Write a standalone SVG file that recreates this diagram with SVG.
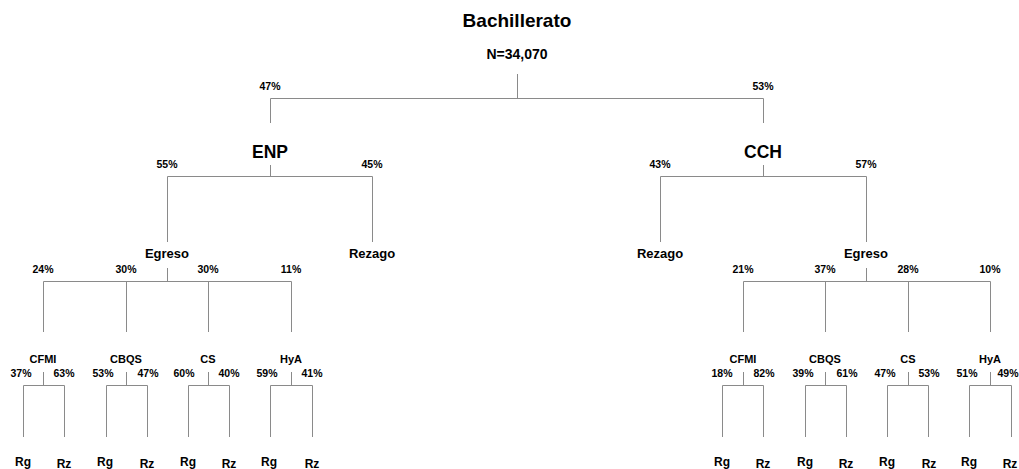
<svg xmlns="http://www.w3.org/2000/svg" width="1019" height="469" viewBox="0 0 1019 469">
<style>
text{font-family:"Liberation Sans",Arial,sans-serif;font-weight:bold;fill:#000;text-anchor:middle}
.t{font-size:19px}
.n{font-size:14px}
.l1{font-size:17.5px}
.l2{font-size:13px}
.l3{font-size:11px}
.lf{font-size:12px}
.p{font-size:10.5px}
.c path{fill:none;stroke:#8a8a8a;stroke-width:1}
</style>
<rect width="1019" height="469" fill="#fff"/>
<g class="c" id="connectors">
<path d="M517.5 74V98.5M270.5 123V98.5H763.5V123"/>
<path d="M270.5 165V176.5M167.5 242V176.5H372.5V242"/>
<path d="M763.5 165V176.5M660.5 242V176.5H866.5V242"/>
<path d="M167.5 268V281.5M43.5 332V281.5H291.5V332M126.5 281.5V332M208.5 281.5V332"/>
<path d="M866.5 268V281.5M743.5 332V281.5H990.5V332M825.5 281.5V332M908.5 281.5V332"/>
<path d="M43.5 372V385.5M23.5 437V385.5H64.5V437"/>
<path d="M126.5 372V385.5M106.5 437V385.5H147.5V437"/>
<path d="M208.5 372V385.5M188.5 437V385.5H229.5V437"/>
<path d="M291.5 372V385.5M270.5 437V385.5H312.5V437"/>
<path d="M743.5 372V385.5M722.5 437V385.5H763.5V437"/>
<path d="M825.5 372V385.5M805.5 437V385.5H846.5V437"/>
<path d="M908.5 372V385.5M887.5 437V385.5H928.5V437"/>
<path d="M990.5 372V385.5M969.5 437V385.5H1011.5V437"/>
</g>
<g id="edge-labels">
<text class="p" x="270" y="90">47%</text><text class="p" x="763" y="90">53%</text>
<text class="p" x="167" y="168">55%</text><text class="p" x="372" y="168">45%</text>
<text class="p" x="660" y="168">43%</text><text class="p" x="866" y="168">57%</text>
<text class="p" x="43" y="273">24%</text><text class="p" x="126" y="273">30%</text><text class="p" x="208" y="273">30%</text><text class="p" x="291" y="273">11%</text>
<text class="p" x="743" y="273">21%</text><text class="p" x="825" y="273">37%</text><text class="p" x="908" y="273">28%</text><text class="p" x="990" y="273">10%</text>
<text class="p" x="21" y="377">37%</text><text class="p" x="64" y="377">63%</text>
<text class="p" x="103" y="377">53%</text><text class="p" x="148" y="377">47%</text>
<text class="p" x="184" y="377">60%</text><text class="p" x="229" y="377">40%</text>
<text class="p" x="267" y="377">59%</text><text class="p" x="312" y="377">41%</text>
<text class="p" x="722" y="377">18%</text><text class="p" x="764" y="377">82%</text>
<text class="p" x="803" y="377">39%</text><text class="p" x="847" y="377">61%</text>
<text class="p" x="885" y="377">47%</text><text class="p" x="929" y="377">53%</text>
<text class="p" x="967" y="377">51%</text><text class="p" x="1008" y="377">49%</text>
</g>
<g id="root"><text class="t" x="517" y="27">Bachillerato</text><text class="n" x="517" y="59">N=34,070</text></g>
<g id="enp"><text class="l1" x="270" y="158">ENP</text></g>
<g id="cch"><text class="l1" x="763" y="158">CCH</text></g>
<g id="enp-egreso"><text class="l2" x="167" y="258">Egreso</text></g>
<g id="enp-rezago"><text class="l2" x="372" y="258">Rezago</text></g>
<g id="cch-rezago"><text class="l2" x="660" y="258">Rezago</text></g>
<g id="cch-egreso"><text class="l2" x="866" y="258">Egreso</text></g>
<g id="enp-cfmi"><text class="l3" x="43" y="363">CFMI</text></g>
<g id="enp-cbqs"><text class="l3" x="126" y="363">CBQS</text></g>
<g id="enp-cs"><text class="l3" x="208" y="363">CS</text></g>
<g id="enp-hya"><text class="l3" x="291" y="363">HyA</text></g>
<g id="cch-cfmi"><text class="l3" x="743" y="363">CFMI</text></g>
<g id="cch-cbqs"><text class="l3" x="825" y="363">CBQS</text></g>
<g id="cch-cs"><text class="l3" x="908" y="363">CS</text></g>
<g id="cch-hya"><text class="l3" x="990" y="363">HyA</text></g>
<g id="enp-cfmi-rg"><text class="lf" x="23" y="466">Rg</text></g>
<g id="enp-cfmi-rz"><text class="lf" x="64" y="468">Rz</text></g>
<g id="enp-cbqs-rg"><text class="lf" x="105" y="466">Rg</text></g>
<g id="enp-cbqs-rz"><text class="lf" x="147" y="468">Rz</text></g>
<g id="enp-cs-rg"><text class="lf" x="188" y="466">Rg</text></g>
<g id="enp-cs-rz"><text class="lf" x="229" y="468">Rz</text></g>
<g id="enp-hya-rg"><text class="lf" x="269" y="466">Rg</text></g>
<g id="enp-hya-rz"><text class="lf" x="312" y="468">Rz</text></g>
<g id="cch-cfmi-rg"><text class="lf" x="722" y="466">Rg</text></g>
<g id="cch-cfmi-rz"><text class="lf" x="763" y="468">Rz</text></g>
<g id="cch-cbqs-rg"><text class="lf" x="805" y="466">Rg</text></g>
<g id="cch-cbqs-rz"><text class="lf" x="846" y="468">Rz</text></g>
<g id="cch-cs-rg"><text class="lf" x="887" y="466">Rg</text></g>
<g id="cch-cs-rz"><text class="lf" x="929" y="468">Rz</text></g>
<g id="cch-hya-rg"><text class="lf" x="969" y="466">Rg</text></g>
<g id="cch-hya-rz"><text class="lf" x="1010" y="468">Rz</text></g>
</svg>
